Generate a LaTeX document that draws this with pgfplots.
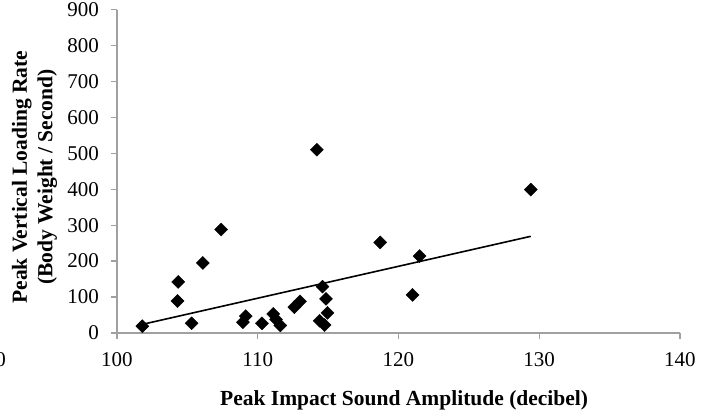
\documentclass[border=0pt]{standalone}
\usepackage{fontspec}
\setmainfont{Liberation Serif}
\usepackage{pgfplots}
\pgfplotsset{compat=1.18}
\definecolor{axgray}{RGB}{160,160,160}
\begin{document}
\fontsize{21}{25}\selectfont
\begin{tikzpicture}
\begin{axis}[
  at={(0,0)}, anchor=south west,
  scale only axis, width=563pt, height=323.5pt,
  xmin=100, xmax=140, ymin=0, ymax=900,
  xtick={100,110,120,130,140}, ytick={0,100,200,300,400,500,600,700,800,900},
  axis lines*=left,
  axis line style={axgray, line width=1.3pt},
  tick style={axgray, line width=1.3pt},
  tick align=outside, major tick length=6pt,
  /pgf/number format/assume math mode=true,
  /pgf/number format/set thousands separator={},
  ticklabel style={font=\fontsize{21}{25}\selectfont, text=black},
  yticklabel style={xshift=-5pt},
  xticklabel style={yshift=-6pt},
  xlabel={Peak Impact Sound Amplitude (decibel)},
  xlabel style={at={(axis description cs:0.51,-0.2226)}, anchor=base, font=\bfseries\fontsize{21.5}{25}\selectfont},
  ylabel={Peak Vertical Loading Rate\\(Body Weight / Second)},
  ylabel style={at={(axis description cs:-0.1465,0.482)}, anchor=center, align=center, font=\bfseries\fontsize{21.5}{25.5}\selectfont},
  clip=false,
]
\addplot[only marks, mark=square*, mark size=4.6pt, mark options={rotate=45, fill=black, draw=black}] table {
x y
101.8 19
104.3 89
104.35 142
105.3 27
106.1 195
107.4 288
108.95 30
109.15 47
110.3 27
111.1 53
111.3 38
111.6 21
112.6 72
113.0 88
114.2 510
114.6 129
114.85 95
114.95 56
114.4 34
114.75 22
118.7 252
121.0 106
121.5 214
129.4 399
};
\addplot[black, line width=1.6pt, no marks] coordinates {(101.8,24) (129.4,269)};
\end{axis}
\node[anchor=east, inner sep=0pt, overlay] at (-111pt,-27pt) {90};
\pgfresetboundingbox
\useasboundingbox (-117pt,-79pt) rectangle (593pt,333pt);
\end{tikzpicture}
\end{document}
